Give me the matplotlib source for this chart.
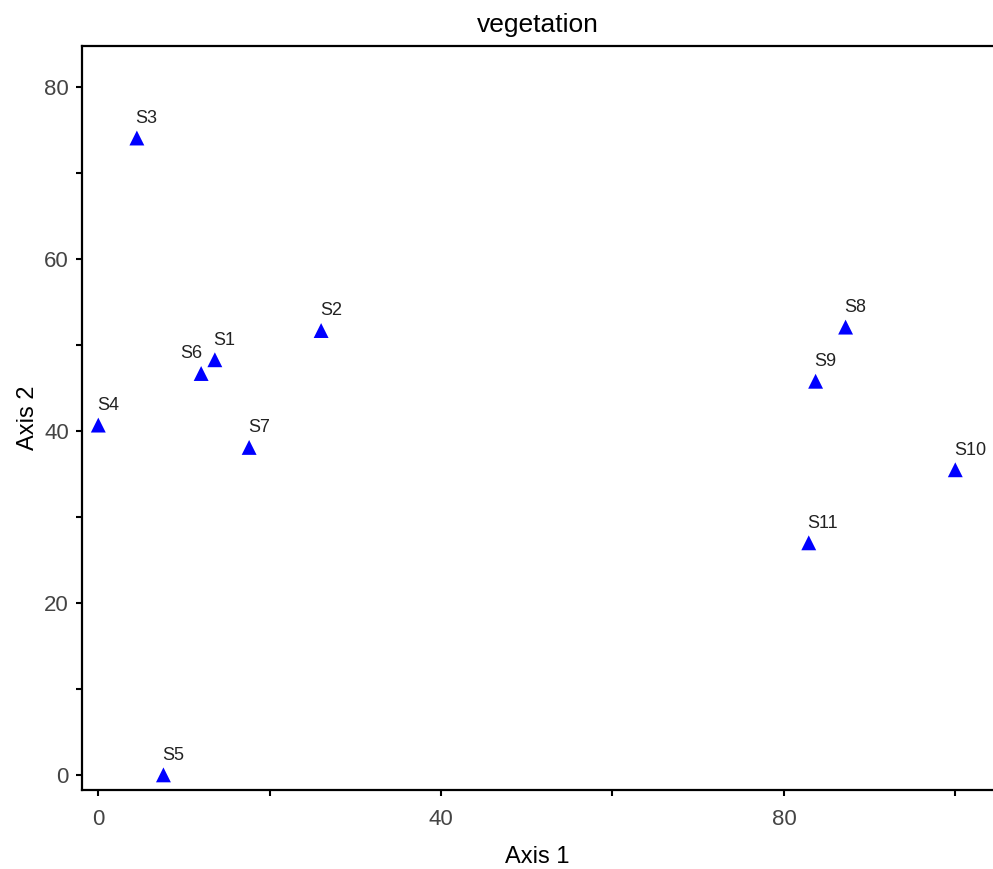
import matplotlib
matplotlib.use("Agg")
import matplotlib.pyplot as plt
from matplotlib.ticker import MultipleLocator

plt.rcParams["font.family"] = ["Liberation Sans", "DejaVu Sans"]

# site scores
sites = ["S1", "S2", "S3", "S4", "S5", "S6", "S7", "S8", "S9", "S10", "S11"]
axis1 = [13.6, 26.0, 4.5, 0.0, 7.6, 12.0, 17.6, 87.2, 83.7, 100.0, 82.9]
axis2 = [48.3, 51.7, 74.1, 40.7, 0.0, 46.7, 38.1, 52.1, 45.8, 35.5, 27.0]

fig = plt.figure(figsize=(9.93, 8.69), dpi=100)
ax = fig.add_axes([0.0826, 0.091, 0.9174, 0.856])

ax.scatter(axis1, axis2, marker="^", s=115, color="#0000ff", edgecolors="none", zorder=3)

for name, x, y in zip(sites, axis1, axis2):
    # S6 sits left of its marker, the rest start at the marker
    ha = "right" if name == "S6" else "left"
    dx = 1 if name == "S6" else -1
    ax.annotate(name, (x, y), xytext=(dx, 8), textcoords="offset points",
                ha=ha, va="bottom", fontsize=13, color="#222222")

ax.set_xlim(-1.9, 104.4)
ax.set_ylim(-1.75, 84.8)
ax.xaxis.set_major_locator(MultipleLocator(40))
ax.xaxis.set_minor_locator(MultipleLocator(20))
ax.yaxis.set_major_locator(MultipleLocator(20))
ax.yaxis.set_minor_locator(MultipleLocator(10))
ax.tick_params(which="both", direction="out", length=4.5, width=1.5, color="black",
               labelsize=16, labelcolor="#444444")
ax.tick_params(axis="x", pad=9)
ax.tick_params(axis="y", pad=5)

for side in ["left", "bottom", "top"]:
    ax.spines[side].set_linewidth(1.6)
ax.spines["right"].set_visible(False)

ax.set_title("vegetation", fontsize=19, pad=10)
ax.set_xlabel("Axis 1", fontsize=17, labelpad=12)
ax.set_ylabel("Axis 2", fontsize=17, labelpad=4)

fig.savefig("out.png", dpi=100)
